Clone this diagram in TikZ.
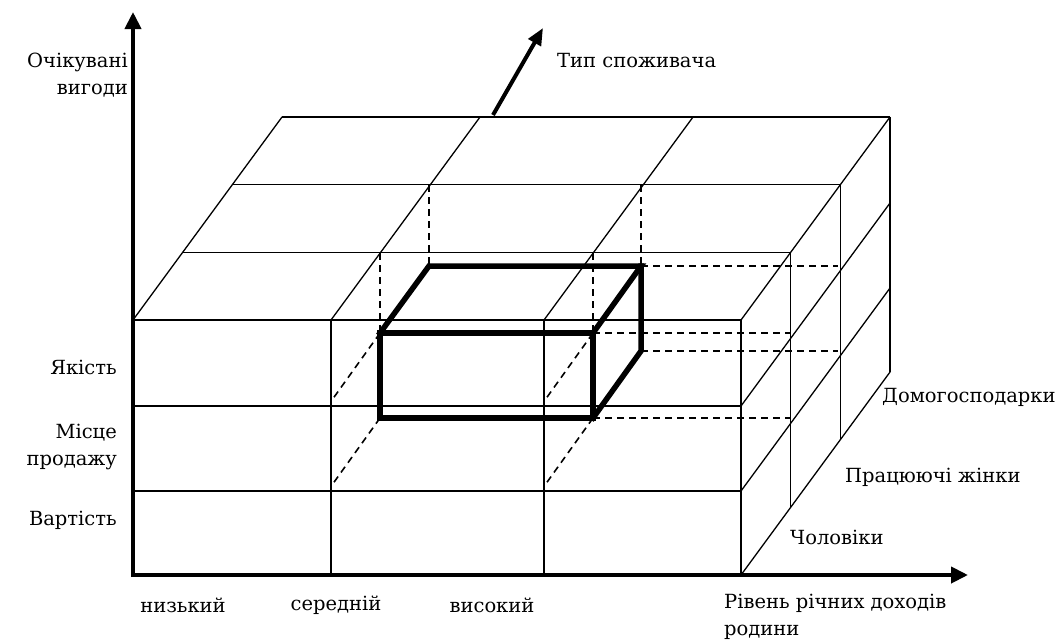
\documentclass[tikz,border=0pt]{standalone}
\usepackage{fontspec}
\setmainfont{DejaVu Serif}
\usetikzlibrary{arrows.meta}
\begin{document}
\begin{tikzpicture}[x=1pt,y=-1pt,
  gridline/.style={line width=1.3pt},
  hid/.style={line width=1.6pt, dash pattern=on 7pt off 5pt},
  hl/.style={line width=5.5pt, line join=miter, line cap=rect},
  ax/.style={line width=4pt, -{Triangle[length=17pt,width=16pt]}},
  lbl/.style={font=\fontsize{19.5}{27}\selectfont, inner sep=0pt}]
\useasboundingbox (0,0) rectangle (1063,640);
\fill[white] (0,0) rectangle (1063,640);
\def\dx{49.7}\def\dy{67.7}
% front face
\draw[gridline] (133,320) rectangle (741,575);
\foreach \x in {331,544} \draw[gridline] (\x,320) -- (\x,575);
\foreach \y in {406,491} \draw[gridline] (133,\y) -- (741,\y);
% top face
\foreach \k in {1,2,3} \draw[gridline] ({133+\k*\dx},{320-\k*\dy}) -- ({741+\k*\dx},{320-\k*\dy});
\foreach \x in {133,331,544,741} \draw[gridline] (\x,320) -- ++({3*\dx},{-3*\dy});
% right face
\foreach \k in {1,2,3} \draw[gridline] ({741+\k*\dx},{320-\k*\dy}) -- ({741+\k*\dx},{575-\k*\dy});
\foreach \y in {406,491,575} \draw[gridline] (741,\y) -- ++({3*\dx},{-3*\dy});
% highlighted cell
\coordinate (ftl) at (380,333);
\coordinate (ftr) at (593,333);
\coordinate (fbl) at (380,418);
\coordinate (fbr) at (593,418);
\coordinate (btl) at (429,266);
\coordinate (btr) at (641,266);
\coordinate (bbr) at (641,351);
% dashed projections
\draw[hid] (380,253) -- (ftl);
\draw[hid] (593,253) -- (ftr);
\draw[hid] (429,185) -- (btl);
\draw[hid] (641,185) -- (btr);
\draw[hid] (ftr) -- (790,333);
\draw[hid] (fbr) -- (790,418);
\draw[hid] (btr) -- (838,266);
\draw[hid] (bbr) -- (838,351);
\draw[hid] (ftl) -- (332,400);
\draw[hid] (fbl) -- (332,485);
\draw[hid] (ftr) -- (545,400);
\draw[hid] (fbr) -- (545,485);
\draw[hl] (ftl) rectangle (fbr);
\draw[hl] (ftl) -- (btl) -- (btr) -- (ftr);
\draw[hl] (btr) -- (bbr) -- (fbr);
% axes
\coordinate (o) at (133,575);
\coordinate (ytip) at (133,12);
\coordinate (xtip) at (968,575);
\coordinate (zs) at (493,115);
\coordinate (zt) at (543,28);
\draw[ax] ([yshift=-2pt]o) -- (ytip);
\draw[ax] ([xshift=-2pt]o) -- (xtip);
\draw[line width=4pt, -{Triangle[length=17pt,width=14pt]}] (zs) -- (zt);
% labels
\node[lbl, anchor=east, align=right] (lob) at (128,75) {Очікувані\\вигоди};
\node[lbl, anchor=west] (ltype) at (557,61) {Тип споживача};
\node[lbl, anchor=east] (lq) at (117,367) {Якість};
\node[lbl, anchor=east, align=right] (lplace) at (117,447) {Місце\\продажу};
\node[lbl, anchor=east] (lcost) at (117,520) {Вартість};
\node[lbl] (llow) at (183,605) {низький};
\node[lbl] (lmid) at (336,605) {середній};
\node[lbl] (lhigh) at (492,605) {високий};
\node[lbl, anchor=north west, align=left] (linc) at (724,594) {Рівень річних доходів\\родини};
\node[lbl, anchor=west] (lhouse) at (882,397) {Домогосподарки};
\node[lbl, anchor=west] (lwork) at (845,477) {Працюючі жінки};
\node[lbl, anchor=west] (lmen) at (790,537) {Чоловіки};
\end{tikzpicture}
\end{document}
